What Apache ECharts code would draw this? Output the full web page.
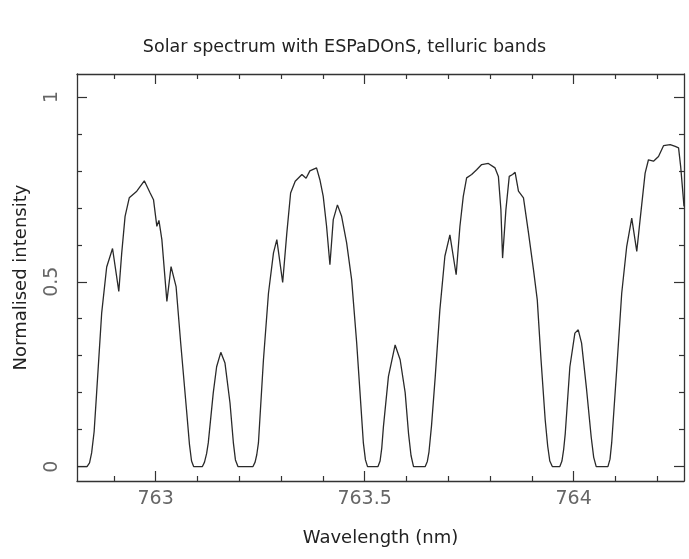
<!DOCTYPE html>
<html>
<head>
<meta charset="utf-8">
<script src="https://cdn.jsdelivr.net/npm/echarts@6/dist/echarts.min.js"></script>
<style>
html,body{margin:0;padding:0;background:#fff;}
#chart{width:689px;height:559px;}
</style>
</head>
<body>
<div id="chart"></div>
<script>
// Wavelength (nm)
var wavelength = [
762.812,762.836,762.842,762.847,762.853,762.859,762.871,762.883,762.897,762.912,762.919,762.927,
762.937,762.955,762.973,762.987,762.995,763.003,763.008,763.015,763.027,763.037,
763.049,763.060,763.074,763.081,763.086,763.091,763.112,763.117,763.122,763.126,763.138,763.146,763.156,
763.166,763.178,763.186,763.191,763.197,763.233,763.238,763.242,763.246,763.258,763.270,763.282,763.290,
763.304,763.314,763.323,763.334,763.350,763.360,763.369,763.385,763.393,763.401,
763.409,763.417,763.425,763.435,763.445,763.457,763.469,763.481,763.489,763.497,763.502,
763.507,763.532,763.537,763.541,763.545,763.557,763.573,763.585,763.597,763.605,763.611,763.617,763.645,763.650,
763.654,763.660,763.669,763.680,763.692,763.704,763.719,763.728,763.736,763.744,763.756,
763.768,763.780,763.796,763.800,763.812,763.820,763.826,763.830,763.838,763.846,
763.854,763.860,763.868,763.880,763.892,763.904,763.913,763.922,763.932,763.938,763.943,
763.949,763.967,763.972,763.976,763.980,763.991,764.003,764.011,764.019,764.031,764.042,764.048,764.054,
764.082,764.087,764.091,764.103,764.115,764.127,764.139,764.151,764.159,764.171,764.179,
764.191,764.203,764.215,764.231,764.243,764.251,764.256,764.264
];
// Normalised intensity
var intensity = [
0.000,0.000,0.010,0.037,0.095,0.200,0.415,0.540,0.590,0.474,0.578,0.677,
0.727,0.745,0.773,0.740,0.722,0.650,0.666,0.614,0.447,0.541,
0.487,0.335,0.153,0.060,0.015,0.000,0.000,0.012,0.035,0.064,0.200,0.270,0.309,
0.280,0.172,0.065,0.018,0.000,0.000,0.012,0.032,0.064,0.289,0.469,0.578,0.614,
0.498,0.633,0.740,0.772,0.790,0.780,0.800,0.808,0.776,0.731,
0.650,0.546,0.668,0.708,0.677,0.605,0.505,0.335,0.200,0.064,0.018,
0.000,0.000,0.015,0.050,0.108,0.244,0.329,0.289,0.200,0.090,0.030,0.000,0.000,0.014,
0.040,0.110,0.244,0.424,0.569,0.627,0.519,0.650,0.731,0.781,0.790,
0.803,0.817,0.820,0.821,0.808,0.785,0.695,0.564,0.695,0.785,
0.790,0.796,0.745,0.727,0.632,0.532,0.451,0.289,0.126,0.055,0.015,
0.000,0.000,0.015,0.045,0.090,0.270,0.361,0.370,0.334,0.208,0.080,0.025,0.000,
0.000,0.020,0.064,0.262,0.469,0.596,0.672,0.582,0.668,0.794,0.830,
0.826,0.839,0.868,0.871,0.866,0.862,0.812,0.704
];
var xMajor = [763, 763.5, 764];
var xMinor = [762.9, 763.1, 763.2, 763.3, 763.4, 763.6, 763.7, 763.8, 763.9, 764.1, 764.2];
var yMajor = [0, 0.5, 1];
var yMinor = [0.1, 0.2, 0.3, 0.4, 0.6, 0.7, 0.8, 0.9];
var xMin = 762.812, xMax = 764.264;
var yMin = -0.039, yMax = 1.062;

var lineColor = '#333';
function xAx(pos, ticks, len, showLine, showLabel, extra) {
  var a = {
    type: 'value', position: pos, min: xMin, max: xMax,
    axisLine: {show: showLine, onZero: false, lineStyle: {color: lineColor, width: 1.3}},
    axisTick: {show: true, inside: true, length: len, customValues: ticks, lineStyle: {color: lineColor, width: 1.2}},
    axisLabel: {show: showLabel, customValues: ticks, fontFamily: 'DejaVu Sans', fontSize: 19, color: '#666', margin: 9},
    splitLine: {show: false}
  };
  if (extra) for (var k in extra) a[k] = extra[k];
  return a;
}
function yAx(pos, ticks, len, showLine, showLabel, extra) {
  var a = {
    type: 'value', position: pos, min: yMin, max: yMax,
    axisLine: {show: showLine, onZero: false, lineStyle: {color: lineColor, width: 1.3}},
    axisTick: {show: true, inside: true, length: len, customValues: ticks, lineStyle: {color: lineColor, width: 1.2}},
    axisLabel: {show: showLabel, customValues: ticks, rotate: 90, fontFamily: 'DejaVu Sans', fontSize: 19, color: '#666', margin: 15,
      formatter: function (v) { return String(v); }},
    splitLine: {show: false}
  };
  if (extra) for (var k in extra) a[k] = extra[k];
  return a;
}

var data = wavelength.map(function (w, i) { return [w, intensity[i]]; });

var chart = echarts.init(document.getElementById('chart'), null, {renderer: 'canvas'});
chart.setOption({
  animation: false,
  backgroundColor: '#fff',
  title: {
    text: 'Solar spectrum with ESPaDOnS, telluric bands',
    left: 'center', top: 33,
    textStyle: {fontFamily: 'DejaVu Sans', fontWeight: 'normal', fontSize: 17.5, color: '#222'}
  },
  grid: {left: 77, right: 5, top: 74, bottom: 78, containLabel: false, outerBoundsMode: 'none'},
  xAxis: [
    xAx('bottom', xMajor, 10, true, true, {
      name: 'Wavelength (nm)', nameLocation: 'middle', nameGap: 48,
      nameTextStyle: {fontFamily: 'DejaVu Sans', fontSize: 18, color: '#222'}
    }),
    xAx('bottom', xMinor, 5, false, false),
    xAx('top', xMajor, 10, true, false),
    xAx('top', xMinor, 5, false, false)
  ],
  yAxis: [
    yAx('left', yMajor, 10, true, true, {
      name: 'Normalised intensity', nameLocation: 'middle', nameGap: 47, nameRotate: 90,
      nameTextStyle: {fontFamily: 'DejaVu Sans', fontSize: 18, color: '#222'}
    }),
    yAx('left', yMinor, 5, false, false),
    yAx('right', yMajor, 10, true, false),
    yAx('right', yMinor, 5, false, false)
  ],
  series: [{
    type: 'line', data: data, xAxisIndex: 0, yAxisIndex: 0,
    showSymbol: false, symbol: 'none',
    lineStyle: {color: '#2a2a2a', width: 1.3},
    clip: true
  }]
});
</script>
</body>
</html>
